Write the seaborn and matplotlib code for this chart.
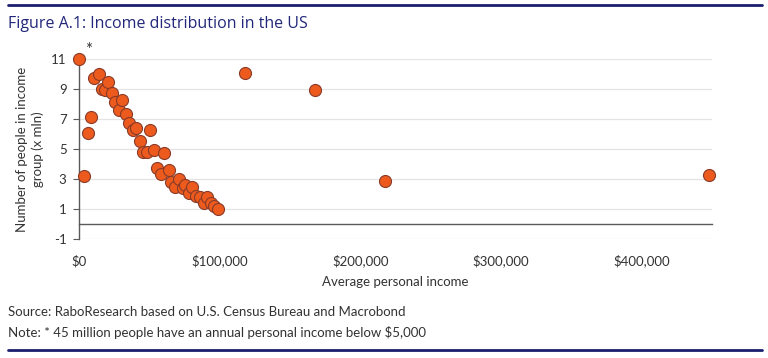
import matplotlib
matplotlib.use("Agg")
import matplotlib.pyplot as plt
import matplotlib.ticker as mticker
from matplotlib.lines import Line2D
import seaborn as sns
import pandas as pd

income = [0, 3400, 6000, 8600, 10500, 13800, 16000, 18300, 20700, 23400,
          25500, 28500, 30700, 33400, 35500, 38500, 40700, 43400, 45700, 48000,
          50700, 53500, 55700, 58200, 60600, 63800, 65600, 68200, 70900, 73600,
          75600, 78200, 80600, 83400, 85700, 88600, 90800, 93700, 96000, 99000,
          117900, 167900, 217600, 448000]
people = [11.0, 3.2, 6.1, 7.13, 9.71, 10.02, 8.98, 8.91, 9.44, 8.71,
          8.14, 7.63, 8.3, 7.33, 6.71, 6.28, 6.42, 5.53, 4.8, 4.79,
          6.27, 4.95, 3.72, 3.36, 4.71, 3.63, 2.8, 2.46, 3.0, 2.39,
          2.6, 2.04, 2.5, 1.85, 1.78, 1.4, 1.83, 1.39, 1.18, 0.99,
          10.08, 8.92, 2.89, 3.27]
y_ticks = [-1, 1, 3, 5, 7, 9, 11]
x_ticks = [0, 100000, 200000, 300000, 400000]

title = "Figure A.1: Income distribution in the US"
x_label = "Average personal income"
y_label = "Number of people in income\ngroup (x mln)"
source = "Source: RaboResearch based on U.S. Census Bureau and Macrobond"
note = "Note: * 45 million people have an annual personal income below $5,000"

df = pd.DataFrame({"income": income, "people": people})

sns.set_theme(style="white")
body = ["Lato", "DejaVu Sans"]
plt.rcParams["font.family"] = body
plt.rcParams["axes.unicode_minus"] = False

fig = plt.figure(figsize=(7.68, 3.58), dpi=100)
ax = fig.add_axes([0.103, 0.3324, 0.824, 0.5026])

for yt in y_ticks:
    ax.axhline(yt, color="#e4e4e4", lw=0.9, zorder=0)

sns.scatterplot(data=df, x="income", y="people", ax=ax, s=75,
                color="#ec5b1d", edgecolor="#8a3a28", linewidth=0.8,
                zorder=3, clip_on=False, legend=False)

ax.set_xlim(0, 450000)
ax.set_ylim(-1, 11)
ax.set_yticks(y_ticks)
ax.set_xticks(x_ticks)
ax.xaxis.set_major_formatter(mticker.FuncFormatter(lambda v, p: f"${v:,.0f}"))

for s in ["top", "right"]:
    ax.spines[s].set_visible(False)
ax.spines["bottom"].set_position(("data", 0))
ax.spines["bottom"].set_color("#5a5a5a")
ax.spines["left"].set_color("#5a5a5a")
ax.spines["bottom"].set_linewidth(1.0)
ax.spines["left"].set_linewidth(1.0)

ax.tick_params(axis="x", direction="out", length=4, width=0.8, color="#5a5a5a",
               pad=18, labelsize=9.5, labelcolor="#333333")
ax.tick_params(axis="y", direction="out", length=4, width=0.8, color="#5a5a5a",
               pad=5, labelsize=9.5, labelcolor="#333333", left=True)

ax.set_xlabel(x_label, fontsize=9.5, color="#333333", labelpad=6)
ax.set_ylabel(y_label, fontsize=9.5, color="#333333", labelpad=5, linespacing=1.3)

ax.annotate("*", xy=(income[0], people[0]), xytext=(4, 1), textcoords="offset points",
            fontsize=12, color="#333333", ha="left", va="bottom", annotation_clip=False)

fig.add_artist(Line2D([0.010, 0.992], [0.985, 0.985], color="#1a1f6e", lw=2.0))
fig.add_artist(Line2D([0.010, 0.992], [0.022, 0.022], color="#1a1f6e", lw=2.0))

fig.text(0.010, 0.933, title, fontsize=11.5, color="#23287a",
         family=["Open Sans", "DejaVu Sans"], ha="left", va="center")
fig.text(0.010, 0.128, source, fontsize=9.5, color="#333333", ha="left", va="center")
fig.text(0.010, 0.070, note, fontsize=9.5, color="#333333", ha="left", va="center")

fig.savefig("out.png", dpi=100)
